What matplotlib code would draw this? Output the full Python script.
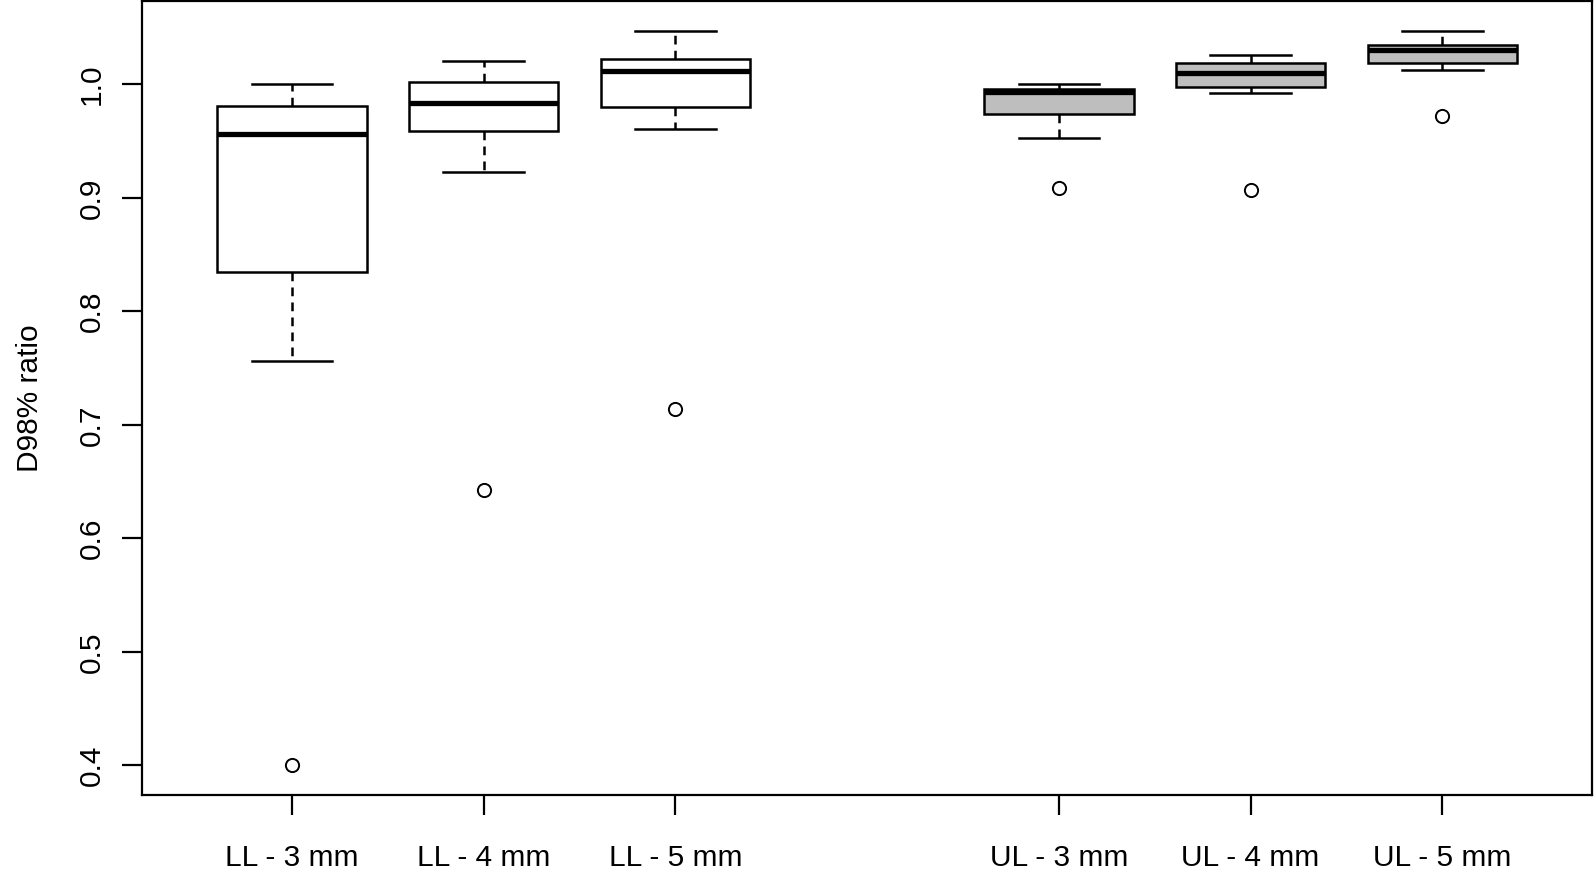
import matplotlib
matplotlib.use("Agg")
import matplotlib.pyplot as plt

plt.rcParams['font.family'] = ['Liberation Sans', 'DejaVu Sans']

# Box statistics (R-style boxplot)
labels = ['LL - 3 mm', 'LL - 4 mm', 'LL - 5 mm', 'UL - 3 mm', 'UL - 4 mm', 'UL - 5 mm']
positions = [1, 2, 3, 5, 6, 7]
whislo = [0.756, 0.923, 0.961, 0.953, 0.992, 1.013]
q1 = [0.835, 0.959, 0.980, 0.974, 0.998, 1.019]
med = [0.956, 0.984, 1.012, 0.993, 1.010, 1.030]
q3 = [0.981, 1.002, 1.022, 0.996, 1.019, 1.035]
whishi = [1.000, 1.021, 1.047, 1.000, 1.026, 1.047]
outliers = [[0.400], [0.643], [0.714], [0.909], [0.907], [0.972]]
fills = ['white', 'white', 'white', '#bebebe', '#bebebe', '#bebebe']

stats = []
for i in range(len(labels)):
    stats.append({'label': labels[i], 'whislo': whislo[i], 'q1': q1[i], 'med': med[i],
                  'q3': q3[i], 'whishi': whishi[i], 'fliers': outliers[i]})

fig = plt.figure(figsize=(15.94, 8.71), dpi=100)
ax = fig.add_axes([0.0893, 0.0873, 0.9094, 0.9115])

bp = ax.bxp(stats, positions=positions, widths=0.78, patch_artist=True,
            showfliers=True,
            boxprops=dict(linewidth=1.8, edgecolor='black'),
            medianprops=dict(linewidth=3.8, color='black', solid_capstyle='butt'),
            whiskerprops=dict(linewidth=1.8, color='black', linestyle=(0, (3.5, 2.5))),
            capprops=dict(linewidth=1.8, color='black'),
            capwidths=0.42,
            flierprops=dict(marker='o', markersize=9.5, markerfacecolor='none',
                            markeredgecolor='black', markeredgewidth=1.4))
for patch, c in zip(bp['boxes'], fills):
    patch.set_facecolor(c)

ax.set_xlim(0.22, 7.78)
ax.set_ylim(0.374, 1.0734)
ax.set_yticks([0.4, 0.5, 0.6, 0.7, 0.8, 0.9, 1.0])
ax.set_yticklabels(['0.4', '0.5', '0.6', '0.7', '0.8', '0.9', '1.0'], rotation=90, va='center')
ax.set_xticks(positions)
ax.set_xticklabels(labels)
ax.tick_params(axis='both', labelsize=21.5, length=14.5, width=1.6, pad=12)
ax.tick_params(axis='x', pad=21)
for s in ax.spines.values():
    s.set_linewidth(1.6)
ax.set_ylabel('D98% ratio', fontsize=21.5, labelpad=24)

fig.savefig('out.png', dpi=100)
